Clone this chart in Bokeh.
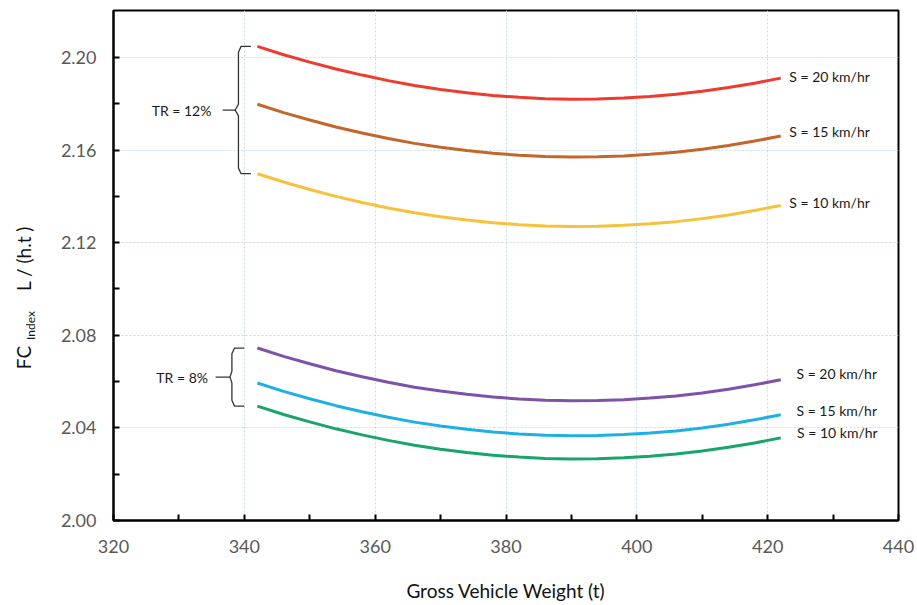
from bokeh.plotting import figure
from bokeh.layouts import row
from bokeh.models import FixedTicker, NumeralTickFormatter, Label, Range1d
from bokeh.embed import file_html
from bokeh.resources import INLINE

# ---- data ----
gvw = [342, 346, 350, 354, 358, 362, 366, 370, 374, 378, 382,
       386, 390, 394, 398, 402, 406, 410, 414, 418, 422]

tr12_s20 = [2.2048, 2.2012, 2.1980, 2.1950, 2.1924, 2.1900, 2.1879, 2.1862, 2.1848, 2.1836, 2.1828,
            2.1822, 2.1820, 2.1821, 2.1825, 2.1832, 2.1841, 2.1854, 2.1870, 2.1889, 2.1911]
tr12_s15 = [2.1798, 2.1762, 2.1730, 2.1700, 2.1674, 2.1650, 2.1629, 2.1612, 2.1598, 2.1586, 2.1578,
            2.1572, 2.1570, 2.1571, 2.1575, 2.1582, 2.1591, 2.1604, 2.1620, 2.1639, 2.1661]
tr12_s10 = [2.1498, 2.1462, 2.1430, 2.1400, 2.1374, 2.1350, 2.1329, 2.1312, 2.1298, 2.1286, 2.1278,
            2.1272, 2.1270, 2.1271, 2.1275, 2.1282, 2.1291, 2.1304, 2.1320, 2.1339, 2.1361]
tr8_s20 = [2.0745, 2.0709, 2.0677, 2.0647, 2.0621, 2.0597, 2.0576, 2.0559, 2.0545, 2.0533, 2.0525,
           2.0519, 2.0517, 2.0518, 2.0522, 2.0529, 2.0538, 2.0551, 2.0567, 2.0586, 2.0608]
tr8_s15 = [2.0594, 2.0558, 2.0526, 2.0496, 2.0470, 2.0446, 2.0425, 2.0408, 2.0394, 2.0382, 2.0374,
           2.0368, 2.0366, 2.0367, 2.0371, 2.0378, 2.0387, 2.0400, 2.0416, 2.0435, 2.0457]
tr8_s10 = [2.0494, 2.0458, 2.0426, 2.0396, 2.0370, 2.0346, 2.0325, 2.0308, 2.0294, 2.0282, 2.0274,
           2.0268, 2.0266, 2.0267, 2.0271, 2.0278, 2.0287, 2.0300, 2.0316, 2.0335, 2.0357]

series_labels = ["S = 20 km/hr", "S = 15 km/hr", "S = 10 km/hr",
                 "S = 20 km/hr", "S = 15 km/hr", "S = 10 km/hr"]
group_labels = ["TR = 12%", "TR = 8%"]

x_ticks = [320, 340, 360, 380, 400, 420, 440]
x_minor = [330, 350, 370, 390, 410, 430]
y_ticks = [2.00, 2.04, 2.08, 2.12, 2.16, 2.20]
y_minor = [2.02, 2.06, 2.10, 2.14, 2.18]

# ---- styling ----
FONT = "Lato"
colors = ["#ee3b30", "#c4662c", "#f6c23c", "#7d52a8", "#1eb0e4", "#17a56a"]
series = [tr12_s20, tr12_s15, tr12_s10, tr8_s20, tr8_s15, tr8_s10]

TITLE_W = 40
FRAME_TOP, FRAME_BOTTOM = 10, 520

p = figure(width=917 - TITLE_W, height=605, output_backend="svg", toolbar_location=None,
           x_range=Range1d(320, 440), y_range=Range1d(2.00, 2.2203),
           min_border_left=113 - TITLE_W, min_border_right=19, min_border_top=FRAME_TOP,
           min_border_bottom=605 - FRAME_BOTTOM)
p.background_fill_color = "white"
p.border_fill_color = "white"
p.outline_line_color = "black"
p.outline_line_width = 2

for ax in (p.xaxis[0], p.yaxis[0]):
    ax.axis_line_color = "black"
    ax.axis_line_width = 2
    ax.major_tick_in = 6
    ax.major_tick_out = 0
    ax.minor_tick_in = 6
    ax.minor_tick_out = 0
    ax.major_tick_line_width = 2
    ax.minor_tick_line_width = 2
    ax.major_tick_line_color = "black"
    ax.minor_tick_line_color = "black"
    ax.major_label_text_font = FONT
    ax.major_label_text_font_size = "18px"
    ax.major_label_text_color = "#595959"

p.xaxis.ticker = FixedTicker(ticks=x_ticks, minor_ticks=x_minor)
p.yaxis.ticker = FixedTicker(ticks=y_ticks, minor_ticks=y_minor)
p.yaxis.formatter = NumeralTickFormatter(format="0.00")
p.xaxis.major_label_standoff = 19
p.yaxis.major_label_standoff = 17

p.xaxis.axis_label = "Gross Vehicle Weight (t)"
p.xaxis.axis_label_text_font = FONT
p.xaxis.axis_label_text_font_size = "19px"
p.xaxis.axis_label_text_font_style = "normal"
p.xaxis.axis_label_text_color = "#111111"
p.xaxis.axis_label_standoff = 23

p.xgrid.grid_line_color = "#c9dbe4"
p.ygrid.grid_line_color = "#c9dbe4"
p.xgrid.grid_line_dash = "2 2"
p.ygrid.grid_line_dash = "2 2"
p.xgrid.grid_line_width = 1
p.ygrid.grid_line_width = 1

for ys, c in zip(series, colors):
    p.line(gvw, ys, line_color=c, line_width=3)

# series labels at the right end
label_dx = [1.3, 1.3, 1.3, 2.4, 2.4, 2.5]
label_dy = [0.0008, 0.002, 0.0014, 0.0027, 0.0018, 0.0023]
for ys, txt, dx, dy in zip(series, series_labels, label_dx, label_dy):
    p.add_layout(Label(x=gvw[-1] + dx, y=ys[-1] + dy, text=txt,
                       text_font=FONT, text_font_size="14px", text_color="#1a1a1a",
                       text_baseline="middle", text_align="left"))

# curly braces with group labels
def brace(xv, top, bot, tip_x, serif_x, connector_x0, label_x, txt):
    mid = (top + bot) / 2
    r = 0.0025
    bx = [serif_x, xv + 0.4, xv, xv, tip_x, xv, xv, xv + 0.4, serif_x]
    by = [top, top, top - r, mid + r, mid, mid - r, bot + r, bot, bot]
    p.line(bx, by, line_color="#333333", line_width=1.3)
    p.line([connector_x0, tip_x], [mid, mid], line_color="#333333", line_width=1.3)
    p.add_layout(Label(x=label_x, y=mid, text=txt, text_font=FONT,
                       text_font_size="14px", text_color="#1a1a1a",
                       text_baseline="middle", text_align="center"))

brace(339.1, tr12_s20[0], tr12_s10[0], 338.6, 341.0, 336.7, 330.4, group_labels[0])
brace(338.1, tr8_s20[0], tr8_s10[0], 337.8, 340.0, 335.6, 330.5, group_labels[1])

# ---- rotated y-axis title (with subscript) in a narrow side figure ----
# (its frame is aligned with the main frame by the row layout, so the y range
#  is expressed in page pixels from FRAME_BOTTOM to FRAME_TOP)
t = figure(width=TITLE_W, height=605, output_backend="svg", toolbar_location=None,
           title=None, x_range=Range1d(0, TITLE_W),
           y_range=Range1d(FRAME_BOTTOM, FRAME_TOP),
           min_border=0, min_border_left=0, min_border_right=0,
           min_border_top=FRAME_TOP, min_border_bottom=605 - FRAME_BOTTOM,
           x_axis_type=None, y_axis_type=None)
t.outline_line_color = None
t.xgrid.visible = False
t.ygrid.visible = False
t.background_fill_color = "white"
t.border_fill_color = "white"
t.add_layout(Label(x=23, y=357, text="FC", angle=1.5708, text_font=FONT,
                   text_font_size="19px", text_color="#111111",
                   text_align="center", text_baseline="middle"))
t.add_layout(Label(x=30, y=325, text="Index", angle=1.5708, text_font=FONT,
                   text_font_size="12px", text_color="#111111",
                   text_align="center", text_baseline="middle"))
t.add_layout(Label(x=23, y=258, text="L / (h.t )", angle=1.5708, text_font=FONT,
                   text_font_size="19px", text_color="#111111",
                   text_align="center", text_baseline="middle"))

layout = row(t, p, spacing=0)
open("out.html", "w").write(file_html(layout, INLINE))
